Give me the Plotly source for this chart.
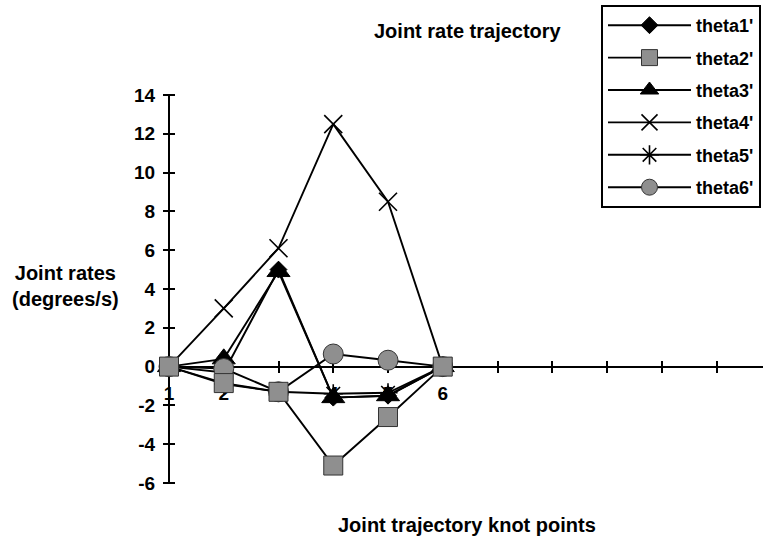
import plotly.graph_objects as go

# ---- data ----
knots = [1, 2, 3, 4, 5, 6]
theta1 = [0, -0.3, 5.0, -1.6, -1.5, 0]
theta2 = [0, -0.85, -1.3, -5.1, -2.6, 0]
theta3 = [0, 0.4, 4.9, -1.6, -1.5, 0]
theta4 = [0, 3.0, 6.1, 12.5, 8.5, 0]
theta5 = [0, -0.9, -1.3, -1.4, -1.35, 0]
theta6 = [0, -0.1, -1.3, 0.65, 0.33, 0]
x_tick_vals = [1, 2, 3, 4, 5, 6, 7, 8, 9, 10, 11]
x_tick_text = ["1", "2", "3", "4", "5", "6", "", "", "", "", ""]
y_tick_vals = [-6, -4, -2, 0, 2, 4, 6, 8, 10, 12, 14]
y_tick_text = ["-6", "-4", "-2", "0", "2", "4", "6", "8", "10", "12", "14"]

FONT = "Liberation Sans, Arial, sans-serif"
GREY = "#8f8f8f"

series = [
    # name, values, symbol, size, fill, outline, rank
    ("theta1'", theta1, "diamond", 13, "black", "black", 1),
    ("theta3'", theta3, "triangle-up", 20, "black", "black", 3),
    ("theta6'", theta6, "circle", 20, GREY, "#333333", 6),
    ("theta4'", theta4, "x-thin-open", 18, "black", "black", 4),
    ("theta5'", theta5, "asterisk-open", 16, "black", "black", 5),
    ("theta2'", theta2, "square", 19, GREY, "#333333", 2),
]

fig = go.Figure()
for name, vals, sym, size, fill, outline, rank in series:
    fig.add_trace(go.Scatter(
        x=knots, y=vals, name=name, mode="lines+markers",
        line=dict(color="black", width=1.9),
        marker=dict(symbol=sym, size=size, color=fill,
                    line=dict(color=outline, width=1.6 if "open" in sym else 1)),
        legendgroup=name, legendrank=rank, cliponaxis=False,
    ))

# plot area in pixels
PLOT_W, PLOT_H = 594, 388
xr = [1, 1 + PLOT_W / 54.75]
yr = [-6, 14]
zero_frac = (0 - yr[0]) / (yr[1] - yr[0])
HALF = 6  # half length of the crossing tick marks, px

fig.update_layout(
    width=763, height=542,
    margin=dict(l=169, r=0, t=95, b=59, autoexpand=False),
    paper_bgcolor="white", plot_bgcolor="white",
    font=dict(family=FONT, color="black", size=18, weight="bold"),
    showlegend=True,
    # x axis: the axis itself sits HALF px below y = 0 so its inside ticks cross the zero line
    xaxis=dict(range=xr, anchor="free", position=zero_frac - HALF / PLOT_H,
               showline=False, showgrid=False, zeroline=False,
               tickmode="array", tickvals=x_tick_vals, ticktext=x_tick_text,
               ticks="inside", ticklen=2 * HALF, tickwidth=2, tickcolor="black",
               ticklabelstandoff=7, layer="below traces",
               tickfont=dict(family=FONT, size=19, weight="bold")),
    # y axis: sits HALF px right of the axis line so its outside ticks cross it;
    # its zero line draws the horizontal axis line at y = 0
    yaxis=dict(range=yr, anchor="free", position=HALF / PLOT_W,
               showline=False, showgrid=False,
               zeroline=True, zerolinecolor="black", zerolinewidth=2,
               tickmode="array", tickvals=y_tick_vals, ticktext=y_tick_text,
               ticks="outside", ticklen=2 * HALF, tickwidth=2, tickcolor="black",
               ticklabelstandoff=4, layer="below traces",
               tickfont=dict(family=FONT, size=19, weight="bold")),
    # vertical axis line along the left edge of the plot area (x = first knot)
    shapes=[dict(type="line", xref="paper", yref="paper", x0=0, x1=0, y0=0, y1=1,
                 line=dict(color="black", width=2), layer="below")],
    legend=dict(x=(601 - 169) / PLOT_W, y=(483 - 5) / PLOT_H, xanchor="left", yanchor="top",
                bgcolor="white", bordercolor="black", borderwidth=2,
                font=dict(family=FONT, size=18, weight="bold"),
                traceorder="grouped", tracegroupgap=6, itemwidth=83),
    annotations=[
        dict(text="Joint rate trajectory", xref="paper", yref="paper",
             x=(468 - 169) / PLOT_W, y=(483 - 31) / PLOT_H, showarrow=False,
             xanchor="center", yanchor="middle",
             font=dict(family=FONT, size=20, weight="bold")),
        dict(text="Joint rates<br>(degrees/s)", xref="paper", yref="paper",
             x=(65 - 169) / PLOT_W, y=(483 - 286) / PLOT_H, showarrow=False,
             xanchor="center", yanchor="middle", align="center",
             font=dict(family=FONT, size=20, weight="bold")),
        dict(text="Joint trajectory knot points", xref="paper", yref="paper",
             x=(467 - 169) / PLOT_W, y=(483 - 525) / PLOT_H, showarrow=False,
             xanchor="center", yanchor="middle",
             font=dict(family=FONT, size=20, weight="bold")),
    ],
)

fig.write_html("out.html")
